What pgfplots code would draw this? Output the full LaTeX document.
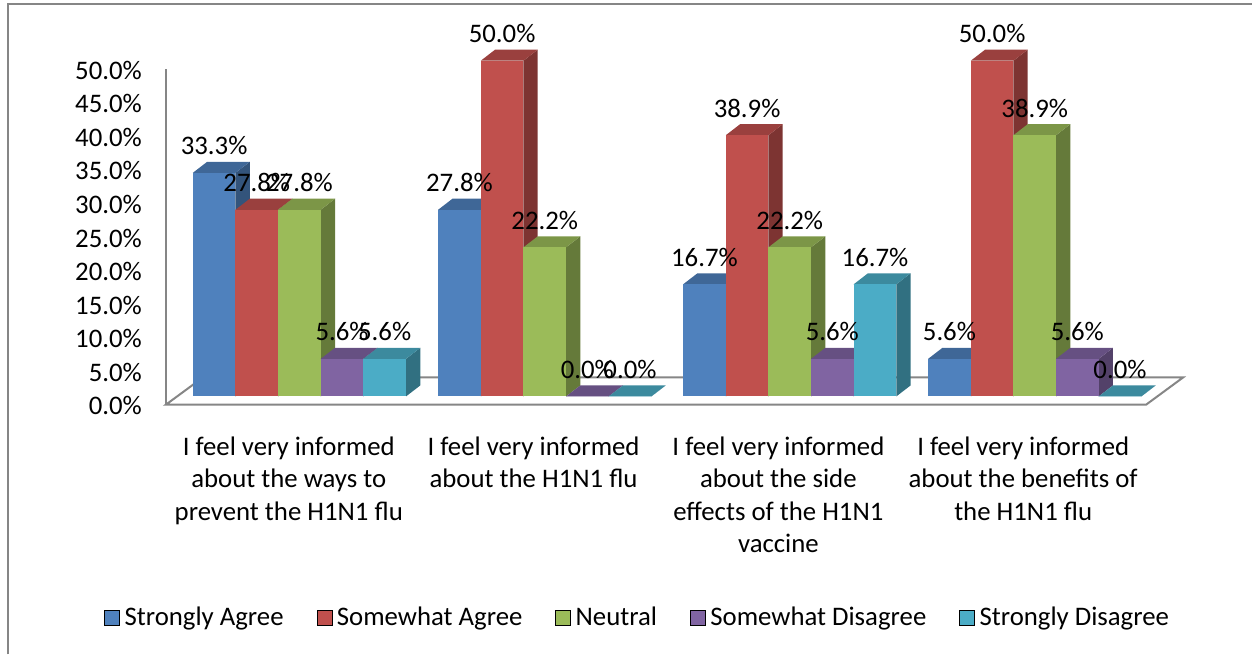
\documentclass[border=0pt]{standalone}
\usepackage{pgfplots}
\pgfplotsset{compat=1.18}
\usepackage{fontspec}
\setmainfont{Carlito}
\definecolor{cblue}{HTML}{4F81BD}
\definecolor{cred}{HTML}{C0504D}
\definecolor{cgreen}{HTML}{9BBB59}
\definecolor{cpurple}{HTML}{8064A2}
\definecolor{cteal}{HTML}{4BACC6}
\definecolor{axgray}{HTML}{868686}
% one px of the reference is 0.5pt; x axis runs in px, y axis in percent
\newcommand{\tdbar}[3]{% left x, value, colour
  \pgfmathsetmacro{\xa}{#1}
  \pgfmathsetmacro{\xb}{#1+42.67}
  \pgfmathsetmacro{\xc}{#1+42.67+14.3}
  \pgfmathsetmacro{\xd}{#1+14.3}
  \pgfmathsetmacro{\ya}{1.23}
  \pgfmathsetmacro{\yb}{#2+1.23}
  \pgfmathsetmacro{\yc}{#2+1.23+1.64}
  \pgfmathsetmacro{\yd}{1.23+1.64}
  \edef\temp{\noexpand\addplot[fill=#3!65!black,draw=none,forget plot] coordinates {(\xb,\ya) (\xc,\yd) (\xc,\yc) (\xb,\yb)} -- cycle;
  \noexpand\addplot[fill=#3!80!black,draw=none,forget plot] coordinates {(\xa,\yb) (\xb,\yb) (\xc,\yc) (\xd,\yc)} -- cycle;
  \noexpand\addplot[fill=#3,draw=none,forget plot] coordinates {(\xa,\ya) (\xb,\ya) (\xb,\yb) (\xa,\yb)} -- cycle;}
  \temp
}
\begin{document}
\begin{tikzpicture}
\begin{axis}[
  scale only axis,
  width=509pt, height=168pt,
  xmin=166, xmax=1184, ymin=0, ymax=50,
  clip=false,
  axis y line*=left,
  axis x line*=bottom,
  x axis line style={draw=none},
  y axis line style={draw=axgray,line width=1pt,-},
  tick style={draw=none},
  xtick={289,534,779,1024},
  xticklabels={{I feel very informed\\about the ways to\\prevent the H1N1 flu},
    {I feel very informed\\about the H1N1 flu},
    {I feel very informed\\about the side\\effects of the H1N1\\vaccine},
    {I feel very informed\\about the benefits of\\the H1N1 flu}},
  xticklabel style={align=center,anchor=north,font=\fontsize{13.4}{16.25}\selectfont,text=black},
  x tick label style={yshift=-12.5pt},
  ytick={0,5,...,50},
  yticklabel={\pgfmathprintnumber[fixed,fixed zerofill,precision=1,assume math mode=true]{\tick}\%},
  yticklabel style={font=\fontsize{13.4}{16}\selectfont,anchor=east,xshift=-8.5pt,yshift=-0.6pt},
  legend style={draw=none,fill=none,at={(axis cs:104,-31.75)},anchor=west,
    font=\fontsize{13.4}{16}\selectfont,inner xsep=0pt,inner ysep=0pt,
    /tikz/every even column/.append style={column sep=14.5pt},
    /tikz/every odd column/.append style={column sep=0.25pt}},
  legend columns=5,
  legend cell align=left,
  legend image code/.code={\fill[#1] (0pt,-3.75pt) rectangle (7.5pt,3.75pt);},
]
% floor
\addplot[axgray,line width=1pt,forget plot] coordinates {(166,0) (1147,0) (1184,4.05) (203,4.05)} -- cycle;
% group 1
\tdbar{193}{33.3}{cblue}
\tdbar{235.67}{27.8}{cred}
\tdbar{278.33}{27.8}{cgreen}
\tdbar{321}{5.6}{cpurple}
\tdbar{363.67}{5.6}{cteal}
% group 2
\tdbar{438.5}{27.8}{cblue}
\tdbar{481.17}{50.0}{cred}
\tdbar{523.83}{22.2}{cgreen}
\tdbar{566.5}{0.0}{cpurple}
\tdbar{609.17}{0.0}{cteal}
% group 3
\tdbar{683.7}{16.7}{cblue}
\tdbar{726.37}{38.9}{cred}
\tdbar{769.03}{22.2}{cgreen}
\tdbar{811.7}{5.6}{cpurple}
\tdbar{854.37}{16.7}{cteal}
% group 4
\tdbar{928.9}{5.6}{cblue}
\tdbar{971.57}{50.0}{cred}
\tdbar{1014.23}{38.9}{cgreen}
\tdbar{1056.9}{5.6}{cpurple}
\tdbar{1099.57}{0.0}{cteal}
% value labels sit on top of all bars
\addplot[only marks,mark=none,draw=none,forget plot,
  nodes near coords={\pgfmathprintnumber[fixed,fixed zerofill,precision=1,assume math mode=true]{\pgfplotspointmeta}\%},
  every node near coord/.append style={anchor=center,yshift=17.65pt,inner sep=0pt,
    font=\fontsize{13.4}{16}\selectfont,text=black}]
  coordinates {
  (214.3,33.3) (257,27.8) (299.7,27.8) (342.3,5.6) (385,5.6)
  (459.8,27.8) (502.5,50.0) (545.2,22.2) (587.8,0.0) (630.5,0.0)
  (705,16.7) (747.7,38.9) (790.4,22.2) (833,5.6) (875.7,16.7)
  (950.2,5.6) (992.9,50.0) (1035.6,38.9) (1078.2,5.6) (1120.9,0.0)};
% outer frame of the figure
\addplot[axgray,line width=1pt,forget plot] coordinates {(8,-37.2) (8,59.67) (1253,59.67)};
\addlegendimage{fill=cblue}\addlegendentry{Strongly Agree}
\addlegendimage{fill=cred}\addlegendentry{Somewhat Agree}
\addlegendimage{fill=cgreen}\addlegendentry{Neutral}
\addlegendimage{fill=cpurple}\addlegendentry{Somewhat Disagree}
\addlegendimage{fill=cteal}\addlegendentry{Strongly Disagree}
\path (axis cs:0,-37.2) rectangle (axis cs:1253,60.27);
\end{axis}
\end{tikzpicture}
\end{document}
